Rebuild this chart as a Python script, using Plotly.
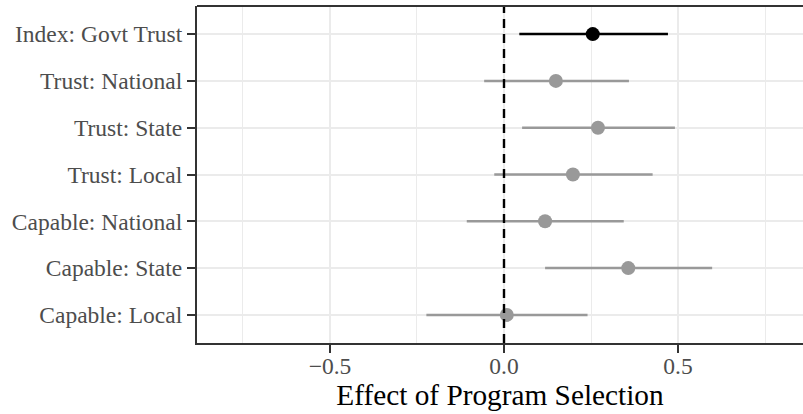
import plotly.graph_objects as go

labels = ["Index: Govt Trust", "Trust: National", "Trust: State", "Trust: Local",
          "Capable: National", "Capable: State", "Capable: Local"]
estimate = [0.255, 0.149, 0.270, 0.198, 0.118, 0.357, 0.008]
ci_low = [0.044, -0.057, 0.052, -0.028, -0.107, 0.118, -0.223]
ci_high = [0.471, 0.359, 0.491, 0.427, 0.344, 0.598, 0.240]
is_index = [True, False, False, False, False, False, False]

x_ticks = [-0.5, 0.0, 0.5]
x_tick_text = ["\u22120.5", "0.0", "0.5"]

FONT = "Liberation Serif"
fig = go.Figure()

for flag, color in [(False, "#999999"), (True, "#000000")]:
    idx = [i for i in range(len(labels)) if is_index[i] == flag]
    fig.add_trace(go.Scatter(
        x=[estimate[i] for i in idx],
        y=[labels[i] for i in idx],
        mode="markers",
        marker=dict(size=14, color=color, line=dict(width=0)),
        error_x=dict(type="data", symmetric=False,
                     array=[ci_high[i] - estimate[i] for i in idx],
                     arrayminus=[estimate[i] - ci_low[i] for i in idx],
                     width=0, thickness=2.5, color=color),
        showlegend=False,
        hoverinfo="skip",
    ))

fig.add_shape(type="line", xref="x", yref="paper", x0=0, x1=0, y0=0, y1=1,
              line=dict(color="black", width=2.4, dash="9px,6px"), layer="above")
# top border of panel
fig.add_shape(type="line", xref="paper", yref="paper", x0=0, x1=1, y0=1, y1=1,
              line=dict(color="#333333", width=2.2), layer="above")

fig.update_layout(
    width=803, height=414,
    margin=dict(l=197, r=0, t=6, b=71),
    paper_bgcolor="white", plot_bgcolor="white",
    font=dict(family=FONT, color="#4D4D4D", size=23),
)
fig.update_xaxes(
    automargin=False,
    range=[-0.882, 0.859],
    tickvals=x_ticks, ticktext=x_tick_text,
    showgrid=True, gridcolor="#EBEBEB", gridwidth=2,
    minor=dict(tickvals=[-0.75, -0.25, 0.25, 0.75], showgrid=True,
               gridcolor="#EBEBEB", gridwidth=1, ticks=""),
    zeroline=False,
    showline=True, linecolor="#333333", linewidth=2.2,
    ticks="outside", ticklen=8, tickwidth=2, tickcolor="#333333",
    ticklabelstandoff=-7,
    tickfont=dict(family=FONT, size=23.5, color="#4D4D4D"),
    title=dict(text="Effect of Program Selection",
               font=dict(family=FONT, size=29.3, color="black"), standoff=4),
)
fig.update_yaxes(
    automargin=False,
    type="category",
    categoryorder="array", categoryarray=labels[::-1],
    range=[-0.6, 6.6],
    showgrid=True, gridcolor="#EBEBEB", gridwidth=2,
    zeroline=False,
    showline=True, linecolor="#333333", linewidth=2.2,
    ticks="outside", ticklen=8, tickwidth=2, tickcolor="#333333",
    tickfont=dict(family=FONT, size=23.5, color="#4D4D4D"),
)

fig.write_html("out.html", config={"displayModeBar": False},
               post_script="document.body.style.margin='0';document.body.style.overflow='hidden';")
